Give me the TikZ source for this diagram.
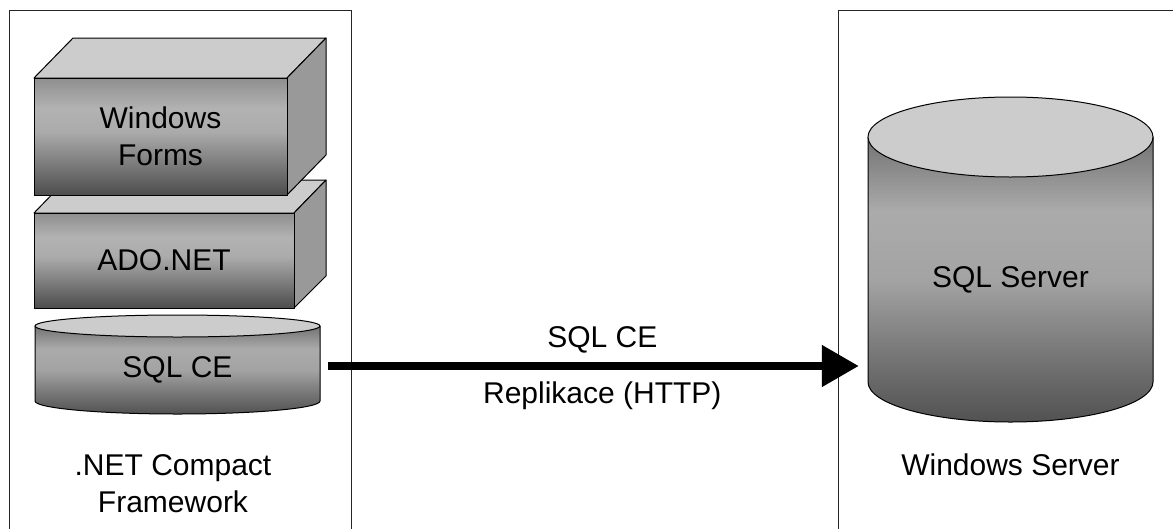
\documentclass[tikz,border=0pt]{standalone}
\usepackage{fontspec}
\setmainfont{Liberation Sans}
\usetikzlibrary{arrows.meta}
\definecolor{topface}{gray}{0.80}
\definecolor{sideface}{gray}{0.60}
\pgfdeclareverticalshading{frontsh}{100bp}{color(0bp)=(black!70); color(25bp)=(black!70); color(38bp)=(black!52); color(52bp)=(black!33); color(62bp)=(black!30); color(75bp)=(black!44); color(100bp)=(black!44)}
\pgfdeclareverticalshading{cylsh}{100bp}{color(0bp)=(black!68); color(25bp)=(black!68); color(38bp)=(black!52); color(50bp)=(black!36); color(62bp)=(black!33); color(75bp)=(black!55); color(100bp)=(black!55)}
\tikzset{
  edge/.style={draw=black, line width=1pt, line join=round},
  lbl/.style={font=\fontsize{30}{37}\selectfont, align=center, inner sep=0pt},
  front/.style={edge, shade, shading=frontsh},
  cylside/.style={edge, shade, shading=cylsh},
  topf/.style={edge, fill=topface},
  sidef/.style={edge, fill=sideface},
  frame/.style={draw=black!85, line width=1pt},
  conn/.style={line width=8pt, -{Triangle[length=37pt,width=40pt]}}
}
\begin{document}
\begin{tikzpicture}[x=1pt,y=-1pt]
\useasboundingbox (0,0) rectangle (1173,528);
\clip (0,0) rectangle (1173,528);
\fill[white] (0,0) rectangle (1173,528);
% frames
\draw[frame] (9,10) rectangle (351,545);
\draw[frame] (838,10) rectangle (1190,545);
% ADO.NET box
\path[topf] (34,213) -- (66,180) -- (326,180) -- (294,213) -- cycle;
\path[sidef] (294,213) -- (326,180) -- (326,276) -- (294,308) -- cycle;
\path[front] (34,213) rectangle (294,308);
% Windows Forms box
\path[topf] (34,78) -- (73,38) -- (326,38) -- (287,78) -- cycle;
\path[sidef] (287,78) -- (326,38) -- (326,155) -- (287,195) -- cycle;
\path[front] (34,78) rectangle (287,195);
% SQL CE cylinder
\path[cylside] (35,326) -- (35,401) arc[start angle=180, end angle=0, x radius=142.5, y radius=13] -- (320,326) -- cycle;
\path[topf] (177.5,326) ellipse [x radius=142.5, y radius=11];
% SQL Server cylinder
\path[cylside] (868,137) -- (868,382) arc[start angle=180, end angle=0, x radius=142.5, y radius=40] -- (1153,137) -- cycle;
\path[topf] (1010.5,137) ellipse [x radius=142.5, y radius=40];
% texts
\node[lbl] (wf) at (160.5,136.5) {Windows\\Forms};
\node[lbl] (ado) at (164,260.5) {ADO.NET};
\node[lbl, minimum width=285pt] (sqlce) at (177.5,370) {SQL CE};
\node[lbl] (netcf) at (173,484) {.NET Compact\\Framework};
\node[lbl, minimum width=285pt] (sqlsrv) at (1010.5,280) {SQL Server};
\node[lbl] (winsrv) at (1010.5,465) {Windows Server};
\coordinate (tipend) at ([yshift=4pt]sqlce.east -| sqlsrv.west);
% connector
\draw[conn, shorten >=9pt] ([xshift=8pt,yshift=4pt]sqlce.east) -- (tipend)
  node[lbl, pos=0.508, yshift=26pt] (lab1) {SQL CE}
  node[lbl, pos=0.508, yshift=-30pt] (lab2) {Replikace (HTTP)};
\end{tikzpicture}
\end{document}
